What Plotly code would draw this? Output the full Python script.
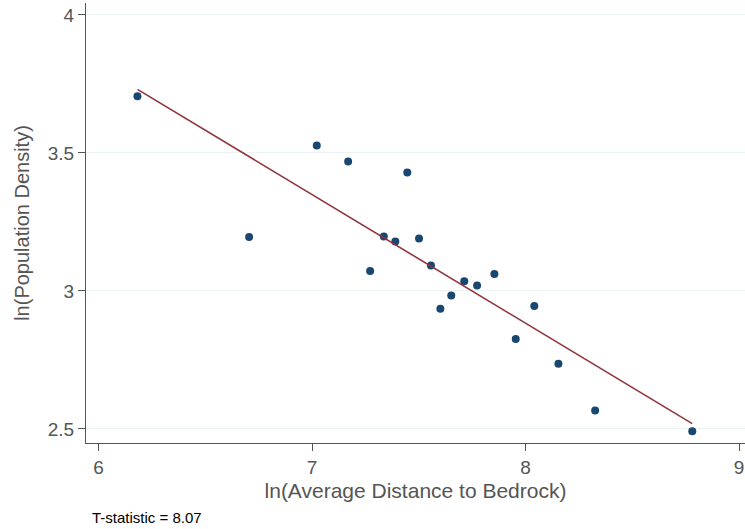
import plotly.graph_objects as go

ln_distance = [6.182, 6.705, 7.022, 7.169, 7.272, 7.336, 7.390, 7.446, 7.501, 7.557,
               7.601, 7.652, 7.713, 7.773, 7.854, 7.954, 8.041, 8.154, 8.326, 8.781]
ln_density = [3.705, 3.195, 3.527, 3.469, 3.072, 3.197, 3.179, 3.429, 3.190, 3.092,
              2.935, 2.983, 3.035, 3.020, 3.061, 2.826, 2.945, 2.736, 2.567, 2.492]
# fitted line coefficients
fit_slope = -0.466
fit_intercept = 6.611
x_ticks = [6, 7, 8, 9]
y_ticks = [2.5, 3, 3.5, 4]
y_tick_labels = ["2.5", "3", "3.5", "4"]
t_stat_text = "T-statistic = 8.07"

fit_x = [min(ln_distance), max(ln_distance)]
fit_y = [fit_slope * v + fit_intercept for v in fit_x]

fig = go.Figure()
fig.add_trace(go.Scatter(x=ln_distance, y=ln_density, mode="markers",
                         marker=dict(color="#1a476f", size=8), showlegend=False,
                         cliponaxis=False))
fig.add_trace(go.Scatter(x=fit_x, y=fit_y, mode="lines",
                         line=dict(color="#90353b", width=1.6), showlegend=False))

font_fam = "Liberation Sans, Arial, sans-serif"
axis_col = "#555555"
fig.update_layout(
    width=745, height=529,
    margin=dict(l=86, r=0, t=3, b=86),
    paper_bgcolor="white", plot_bgcolor="white",
    font=dict(family=font_fam, color=axis_col),
    xaxis=dict(range=[5.941, 9.028], tickvals=x_ticks, ticks="outside", ticklen=7,
               tickcolor=axis_col, showline=True, linecolor=axis_col, linewidth=1,
               showgrid=False, zeroline=False, automargin=False,
               tickfont=dict(size=19, color=axis_col),
               title=dict(text="ln(Average Distance to Bedrock)", font=dict(size=21, color=axis_col),
                          standoff=6)),
    yaxis=dict(range=[2.449, 4.043], tickvals=y_ticks, ticktext=y_tick_labels, ticks="outside",
               ticklen=7, tickcolor=axis_col, showline=True, linecolor=axis_col, linewidth=1,
               showgrid=True, gridcolor="#eaf2f3", gridwidth=1, zeroline=False, automargin=False,
               tickfont=dict(size=19, color=axis_col),
               title=dict(text="ln(Population Density)", font=dict(size=20, color=axis_col),
                          standoff=12)),
    annotations=[dict(text=t_stat_text, xref="paper", yref="paper", x=0.006, y=-0.170,
                      xanchor="left", yanchor="middle", showarrow=False,
                      font=dict(size=15, color="black", family=font_fam))],
)
fig.write_html("out.html", config={"displayModeBar": False},
               post_script="document.body.style.margin='0';document.body.style.padding='0';")
